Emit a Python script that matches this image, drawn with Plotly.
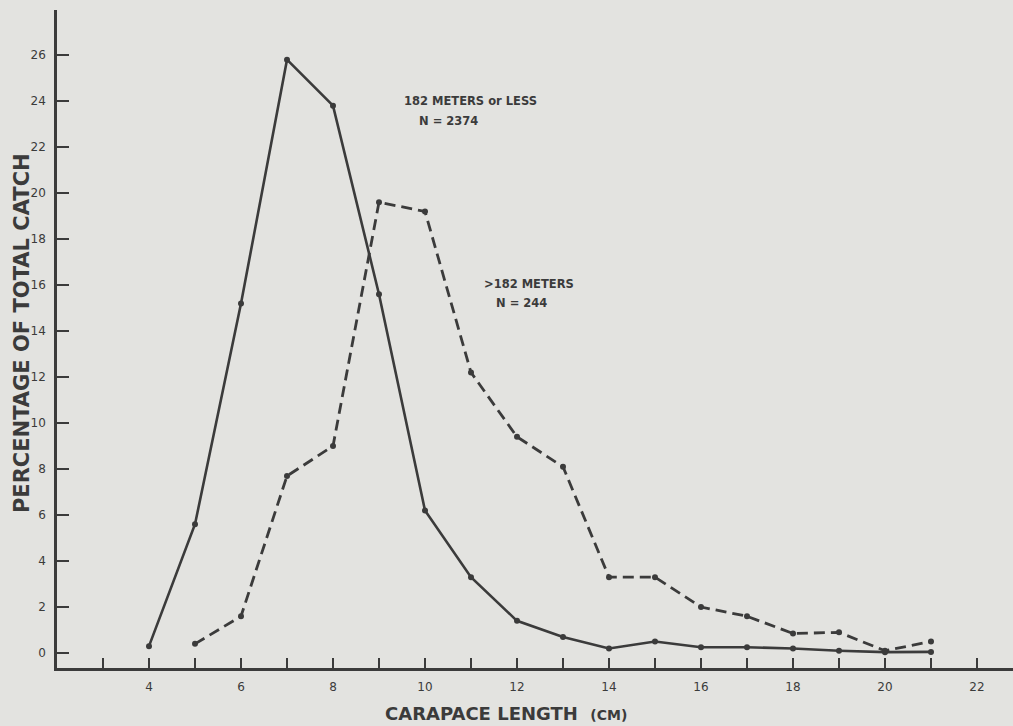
import plotly.graph_objects as go

# Carapace length (cm)
length_shallow = [4, 5, 6, 7, 8, 9, 10, 11, 12, 13, 14, 15, 16, 17, 18, 19, 20, 21]
pct_shallow = [0.3, 5.6, 15.2, 25.8, 23.8, 15.6, 6.2, 3.3, 1.4, 0.7, 0.2, 0.5, 0.25, 0.25, 0.2, 0.1, 0.04, 0.05]

length_deep = [5, 6, 7, 8, 9, 10, 11, 12, 13, 14, 15, 16, 17, 18, 19, 20, 21]
pct_deep = [0.4, 1.6, 7.7, 9.0, 19.6, 19.2, 12.2, 9.4, 8.1, 3.3, 3.3, 2.0, 1.6, 0.85, 0.9, 0.1, 0.5]

x_tickvals = list(range(3, 23))
x_ticktext = [str(v) if v % 2 == 0 else "" for v in x_tickvals]
y_tickvals = list(range(0, 27, 2))

ink = "#3b3b3b"
paper = "#e3e3e0"
font_family = "'DejaVu Sans', sans-serif"

fig = go.Figure()
fig.add_trace(go.Scatter(
    x=length_shallow, y=pct_shallow, mode="lines+markers",
    line=dict(color=ink, width=2.6),
    marker=dict(color=ink, size=6),
    name="182 METERS or LESS", showlegend=False, cliponaxis=False,
))
fig.add_trace(go.Scatter(
    x=length_deep, y=pct_deep, mode="lines+markers",
    line=dict(color=ink, width=2.8, dash="11px,6px"),
    marker=dict(color=ink, size=6),
    name=">182 METERS", showlegend=False, cliponaxis=False,
))

lab_font = dict(family=font_family, size=11.5, color=ink, weight="bold")
fig.add_annotation(x=9.5, y=24.0, text="182 METERS or LESS", showarrow=False,
                   xanchor="left", yanchor="middle", font=lab_font)
fig.add_annotation(x=9.83, y=23.15, text="N = 2374", showarrow=False,
                   xanchor="left", yanchor="middle", font=lab_font)
fig.add_annotation(x=11.24, y=16.05, text="&gt;182 METERS", showarrow=False,
                   xanchor="left", yanchor="middle", font=lab_font)
fig.add_annotation(x=11.5, y=15.22, text="N = 244", showarrow=False,
                   xanchor="left", yanchor="middle", font=lab_font)

# axis titles
fig.add_annotation(xref="paper", yref="paper", x=(383 - 57) / 956, y=-0.0699,
                   text="CARAPACE LENGTH&nbsp;&nbsp;<span style='font-size:14px'>(CM)</span>",
                   showarrow=False, xanchor="left", yanchor="middle",
                   font=dict(family=font_family, size=18, color=ink, weight="bold"))
fig.add_annotation(xref="paper", yref="paper", x=-0.0366, y=0.509,
                   text="PERCENTAGE OF TOTAL CATCH", textangle=-90,
                   showarrow=False, xanchor="center", yanchor="middle",
                   font=dict(family=font_family, size=21, color=ink, weight="bold"))

fig.update_layout(
    width=1013, height=726,
    margin=dict(l=57, r=0, t=10, b=58),
    paper_bgcolor=paper, plot_bgcolor=paper,
    font=dict(family=font_family, color=ink, size=12),
    xaxis=dict(
        range=[2, 2 + 956 / 46], tickvals=x_tickvals, ticktext=x_ticktext,
        ticks="inside", ticklen=10, tickwidth=2, tickcolor=ink,
        showline=True, linecolor=ink, linewidth=2.5,
        showgrid=False, zeroline=False, ticklabelstandoff=6,
        tickfont=dict(size=12, color=ink),
    ),
    yaxis=dict(
        range=[-0.65, -0.65 + 658 / 23], tickvals=y_tickvals,
        ticks="inside", ticklen=12, tickwidth=2, tickcolor=ink,
        showline=True, linecolor=ink, linewidth=2.5,
        showgrid=False, zeroline=False, ticklabelstandoff=6,
        tickfont=dict(size=12, color=ink),
    ),
)

fig.write_html(
    "out.html",
    config={"displayModeBar": False},
    post_script=(
        "document.body.style.margin='0px';"
        "document.body.style.overflow='hidden';"
        "document.body.style.background='" + paper + "';"
    ),
)
